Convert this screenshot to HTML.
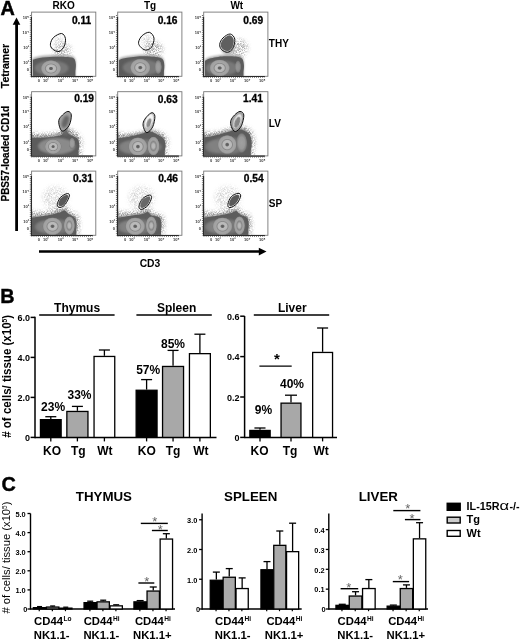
<!DOCTYPE html>
<html><head><meta charset="utf-8"><title>Figure</title>
<style>
html,body{margin:0;padding:0;background:#fff;}
svg{display:block;font-family:"Liberation Sans", Arial, sans-serif;}
</style></head><body>
<svg width="520" height="641" viewBox="0 0 520 641">
<rect width="520" height="641" fill="#fff"/>
<defs>
<filter id="b1" x="-20%" y="-20%" width="140%" height="140%"><feGaussianBlur stdDeviation="1"/></filter>
<filter id="b2" x="-20%" y="-20%" width="140%" height="140%"><feGaussianBlur stdDeviation="2"/></filter>
<filter id="b3" x="-30%" y="-30%" width="160%" height="160%"><feGaussianBlur stdDeviation="3.5"/></filter>
<filter id="b05" x="-20%" y="-20%" width="140%" height="140%"><feGaussianBlur stdDeviation="0.6"/></filter>
<radialGradient id="ring">
<stop offset="0" stop-color="#5c5c5c"/><stop offset="0.13" stop-color="#666"/>
<stop offset="0.24" stop-color="#bcbcbc"/><stop offset="0.44" stop-color="#b8b8b8"/>
<stop offset="0.54" stop-color="#8a8a8a"/><stop offset="0.64" stop-color="#a6a6a6"/>
<stop offset="0.86" stop-color="#a0a0a0"/><stop offset="0.96" stop-color="#808080"/>
<stop offset="1" stop-color="#707070" stop-opacity="0"/></radialGradient>
<radialGradient id="ringB">
<stop offset="0" stop-color="#bababa"/><stop offset="0.24" stop-color="#b4b4b4"/>
<stop offset="0.46" stop-color="#868686"/><stop offset="0.64" stop-color="#a4a4a4"/>
<stop offset="0.86" stop-color="#9c9c9c"/><stop offset="0.96" stop-color="#808080"/>
<stop offset="1" stop-color="#707070" stop-opacity="0"/></radialGradient>
<radialGradient id="lobe">
<stop offset="0" stop-color="#a0a0a0"/><stop offset="0.55" stop-color="#999"/>
<stop offset="0.85" stop-color="#7e7e7e"/>
<stop offset="1" stop-color="#6a6a6a" stop-opacity="0"/></radialGradient>
<filter id="spk" x="-30%" y="-30%" width="160%" height="160%"><feGaussianBlur in="SourceGraphic" stdDeviation="2.2" result="bl"/>
<feTurbulence type="fractalNoise" baseFrequency="1.3" numOctaves="1" seed="11" result="n"/>
<feColorMatrix in="n" type="matrix" values="0 0 0 0 0  0 0 0 0 0  0 0 0 0 0  0 0 0 3.4 -1.25" result="m"/>
<feComposite in="bl" in2="m" operator="in" result="s"/>
<feGaussianBlur in="s" stdDeviation="0.35"/></filter>
</defs>
<text x="0.6" y="14.6" font-size="19.8" font-weight="bold" text-anchor="start" fill="#000" stroke="#000" stroke-width="0.5">A</text>
<line x1="16.6" y1="22" x2="16.6" y2="231" stroke="#000" stroke-width="2.8" />
<path d="M16.5 17.6 L12.7 24.7 L20.3 24.7 Z" fill="#000"/>
<text transform="translate(8.9,88.3) rotate(-90)" font-size="10.3" font-weight="bold" textLength="44.5" stroke="#000" stroke-width="0.2" lengthAdjust="spacingAndGlyphs">Tetramer</text>
<text transform="translate(8.9,201.5) rotate(-90)" font-size="10.3" font-weight="bold" textLength="95.5" stroke="#000" stroke-width="0.2" lengthAdjust="spacingAndGlyphs">PBS57-loaded CD1d</text>
<line x1="39" y1="251.5" x2="260" y2="251.5" stroke="#000" stroke-width="2.7" />
<path d="M266.5 251.6 L258.8 247.7 L258.8 255.5 Z" fill="#000"/>
<text x="150" y="266.8" font-size="10.3" font-weight="bold" text-anchor="middle" fill="#000" >CD3</text>
<text x="63.6" y="8.8" font-size="10" font-weight="bold" text-anchor="middle" fill="#000" >RKO</text>
<text x="150" y="8.8" font-size="10" font-weight="bold" text-anchor="middle" fill="#000" >Tg</text>
<text x="236.8" y="8.8" font-size="10" font-weight="bold" text-anchor="middle" fill="#000" >Wt</text>
<text x="268.8" y="47.2" font-size="10" font-weight="bold" text-anchor="start" fill="#000" >THY</text>
<text x="268.8" y="127" font-size="10" font-weight="bold" text-anchor="start" fill="#000" >LV</text>
<text x="268.8" y="206.5" font-size="10" font-weight="bold" text-anchor="start" fill="#000" >SP</text>
<clipPath id="cp00"><rect x="32.0" y="12.5" width="63.4" height="63.4"/></clipPath>
<g clip-path="url(#cp00)"><g transform="translate(31.6,12.1)">
<ellipse cx="31.0" cy="39.0" rx="9" ry="8" fill="#999" opacity="0.75" filter="url(#spk)"/>
<ellipse cx="27.5" cy="30.5" rx="4.5" ry="7" fill="#aaa" opacity="0.6" filter="url(#spk)"/>
<path d="M1.2 72 L1.2 45.9 C2.3 45.6 4.5 44.7 8.0 44.2 C11.5 43.7 17.3 43.1 22.0 43.0 C26.7 42.9 32.6 43.1 36.0 43.4 C39.4 43.7 40.9 43.7 42.3 44.9 C43.7 46.1 44.0 48.1 44.2 50.4 C44.5 52.6 43.9 57.1 43.8 58.4 L43.8 72Z" fill="#8c8c8c" opacity="0.75" filter="url(#b1)"/>
<path d="M1.2 72 L1.2 47.5 C2.3 47.2 4.5 46.3 8.0 45.8 C11.5 45.3 17.3 44.7 22.0 44.6 C26.7 44.5 32.6 44.7 36.0 45.0 C39.4 45.3 40.9 45.3 42.3 46.5 C43.7 47.7 44.0 49.8 44.2 52.0 C44.5 54.2 43.9 58.7 43.8 60.0 L43.8 72Z" fill="#5c5c5c" filter="url(#b05)"/>
<ellipse cx="20.0" cy="56.0" rx="17" ry="7.5" fill="#787878" filter="url(#b1)"/>
<ellipse cx="19.4" cy="56.4" rx="10.4" ry="8.4" fill="url(#ring)"/>
</g></g>
<path transform="translate(31.6,12.1)" d="M30.0 21.4 C32.0 21.6 33.4 24.2 33.8 26.3 C34.2 28.4 33.6 31.8 32.6 34.0 C31.6 36.2 29.4 38.9 27.5 39.4 C25.6 39.9 22.4 38.2 21.0 37.0 C19.6 35.8 18.6 34.0 18.8 32.0 C19.0 30.1 20.1 27.1 22.0 25.3 C23.9 23.5 28.0 21.2 30.0 21.4Z" fill="none" stroke="#101010" stroke-width="1"/>
<g font-size="4" font-weight="bold" fill="#333" text-anchor="end">
<text x="29.0" y="19.1">10⁵</text>
<text x="29.0" y="33.6">10⁴</text>
<text x="29.0" y="48.6">10³</text>
<text x="29.0" y="64.1">10²</text>
<text x="29.0" y="71.1">0</text>
</g>
<g font-size="4" font-weight="bold" fill="#333" text-anchor="middle">
<text x="38.9" y="82.1">0</text>
<text x="45.8" y="82.1">10²</text>
<text x="60.6" y="82.1">10³</text>
<text x="75.1" y="82.1">10⁴</text>
<text x="90.1" y="82.1">10⁵</text>
</g>
<rect x="31.6" y="12.1" width="64.2" height="64.2" fill="none" stroke="#777" stroke-width="0.9"/>
<path d="M31.4 17.1 V76.5 H92.8" fill="none" stroke="#2a2a2a" stroke-width="1.2"/>
<line x1="30.4" y1="15.1" x2="30.4" y2="76.3" stroke="#444" stroke-width="1.2" stroke-dasharray="0.6 1.5"/>
<line x1="31.6" y1="77.5" x2="92.8" y2="77.5" stroke="#444" stroke-width="1.2" stroke-dasharray="0.6 1.5"/>
<text x="91.2" y="24.1" font-size="10.2" font-weight="bold" text-anchor="end" fill="#000" stroke="#000" stroke-width="0.3">0.11</text>
<clipPath id="cp01"><rect x="118.1" y="12.5" width="63.4" height="63.4"/></clipPath>
<g clip-path="url(#cp01)"><g transform="translate(117.7,12.1)">
<ellipse cx="36.0" cy="38.0" rx="9" ry="8.5" fill="#909090" opacity="0.85" filter="url(#spk)"/>
<ellipse cx="29.5" cy="29.0" rx="4.5" ry="6.5" fill="#aaa" opacity="0.7" filter="url(#spk)"/>
<path d="M1.2 72 L1.2 46.4 C2.3 46.1 4.2 45.0 8.0 44.4 C11.8 43.8 19.0 42.8 24.0 42.6 C29.0 42.4 34.5 42.9 38.0 43.4 C41.5 43.9 43.4 44.1 44.8 45.4 C46.2 46.7 46.4 49.2 46.6 51.4 C46.8 53.6 46.3 57.2 46.2 58.4 L46.2 72Z" fill="#8c8c8c" opacity="0.75" filter="url(#b1)"/>
<path d="M1.2 72 L1.2 48.0 C2.3 47.7 4.2 46.6 8.0 46.0 C11.8 45.4 19.0 44.4 24.0 44.2 C29.0 44.0 34.5 44.5 38.0 45.0 C41.5 45.5 43.4 45.7 44.8 47.0 C46.2 48.3 46.4 50.8 46.6 53.0 C46.8 55.2 46.3 58.8 46.2 60.0 L46.2 72Z" fill="#5c5c5c" filter="url(#b05)"/>
<ellipse cx="24.0" cy="55.5" rx="19" ry="8" fill="#787878" filter="url(#b1)"/>
<ellipse cx="22.6" cy="55.5" rx="10.4" ry="9" fill="url(#ring)"/>
<ellipse cx="40.5" cy="54.9" rx="3.8" ry="7.4" fill="url(#lobe)"/>
</g></g>
<path transform="translate(117.7,12.1)" d="M31.7 20.2 C33.7 20.6 36.0 23.6 36.3 26.1 C36.6 28.6 35.1 33.3 33.7 35.3 C32.3 37.3 29.7 38.0 27.8 37.9 C25.9 37.8 23.8 35.9 22.6 34.6 C21.5 33.3 20.6 31.9 20.9 30.0 C21.2 28.1 22.7 25.1 24.5 23.5 C26.3 21.9 29.7 19.8 31.7 20.2Z" fill="none" stroke="#101010" stroke-width="1"/>
<g font-size="4" font-weight="bold" fill="#333" text-anchor="end">
<text x="115.1" y="19.1">10⁵</text>
<text x="115.1" y="33.6">10⁴</text>
<text x="115.1" y="48.6">10³</text>
<text x="115.1" y="64.1">10²</text>
<text x="115.1" y="71.1">0</text>
</g>
<g font-size="4" font-weight="bold" fill="#333" text-anchor="middle">
<text x="125.0" y="82.1">0</text>
<text x="131.9" y="82.1">10²</text>
<text x="146.7" y="82.1">10³</text>
<text x="161.2" y="82.1">10⁴</text>
<text x="176.2" y="82.1">10⁵</text>
</g>
<rect x="117.7" y="12.1" width="64.2" height="64.2" fill="none" stroke="#777" stroke-width="0.9"/>
<path d="M117.5 17.1 V76.5 H178.9" fill="none" stroke="#2a2a2a" stroke-width="1.2"/>
<line x1="116.5" y1="15.1" x2="116.5" y2="76.3" stroke="#444" stroke-width="1.2" stroke-dasharray="0.6 1.5"/>
<line x1="117.7" y1="77.5" x2="178.9" y2="77.5" stroke="#444" stroke-width="1.2" stroke-dasharray="0.6 1.5"/>
<text x="177.5" y="23.5" font-size="10.2" font-weight="bold" text-anchor="end" fill="#000" stroke="#000" stroke-width="0.3">0.16</text>
<clipPath id="cp02"><rect x="204.1" y="12.5" width="63.4" height="63.4"/></clipPath>
<g clip-path="url(#cp02)"><g transform="translate(203.7,12.1)">
<ellipse cx="35.0" cy="36.0" rx="9" ry="9" fill="#909090" opacity="0.8" filter="url(#spk)"/>
<path d="M1.2 72 L1.2 47.4 C2.0 47.0 2.9 45.7 6.0 44.9 C9.1 44.1 15.7 42.9 20.0 42.6 C24.3 42.3 28.9 42.5 32.0 42.9 C35.0 43.3 36.9 43.5 38.3 44.9 C39.7 46.3 40.0 49.1 40.2 51.4 C40.5 53.6 39.9 57.2 39.8 58.4 L39.8 72Z" fill="#8c8c8c" opacity="0.75" filter="url(#b1)"/>
<path d="M1.2 72 L1.2 49.0 C2.0 48.6 2.9 47.3 6.0 46.5 C9.1 45.7 15.7 44.5 20.0 44.2 C24.3 43.9 28.9 44.1 32.0 44.5 C35.0 44.9 36.9 45.1 38.3 46.5 C39.7 47.9 40.0 50.8 40.2 53.0 C40.5 55.2 39.9 58.8 39.8 60.0 L39.8 72Z" fill="#5c5c5c" filter="url(#b05)"/>
<ellipse cx="18.0" cy="56.0" rx="16" ry="7.5" fill="#787878" filter="url(#b1)"/>
<ellipse cx="16.0" cy="55.9" rx="10.4" ry="8.6" fill="url(#ring)"/>
<ellipse cx="34.3" cy="54.6" rx="3.3" ry="6.6" fill="url(#lobe)" opacity="0.8"/>
<ellipse cx="24.0" cy="36.0" rx="7" ry="7" fill="#888" opacity="0.5" filter="url(#b1)"/>
<path d="M26.5 21.9 C28.5 22.1 30.7 24.7 31.1 27.1 C31.5 29.5 30.3 34.1 29.1 36.3 C27.9 38.5 25.8 40.0 23.9 40.2 C22.0 40.4 19.3 38.9 18.0 37.6 C16.7 36.3 15.8 34.3 16.0 32.3 C16.2 30.3 17.6 27.5 19.3 25.8 C21.1 24.1 24.5 21.7 26.5 21.9Z" fill="#5e5e5e" filter="url(#b05)" transform="translate(23.4 31.6) scale(0.86) translate(-23.4 -31.6)"/>
</g></g>
<path transform="translate(203.7,12.1)" d="M26.5 21.9 C28.5 22.1 30.7 24.7 31.1 27.1 C31.5 29.5 30.3 34.1 29.1 36.3 C27.9 38.5 25.8 40.0 23.9 40.2 C22.0 40.4 19.3 38.9 18.0 37.6 C16.7 36.3 15.8 34.3 16.0 32.3 C16.2 30.3 17.6 27.5 19.3 25.8 C21.1 24.1 24.5 21.7 26.5 21.9Z" fill="none" stroke="#101010" stroke-width="1"/>
<g font-size="4" font-weight="bold" fill="#333" text-anchor="end">
<text x="201.1" y="19.1">10⁵</text>
<text x="201.1" y="33.6">10⁴</text>
<text x="201.1" y="48.6">10³</text>
<text x="201.1" y="64.1">10²</text>
<text x="201.1" y="71.1">0</text>
</g>
<g font-size="4" font-weight="bold" fill="#333" text-anchor="middle">
<text x="211.0" y="82.1">0</text>
<text x="217.9" y="82.1">10²</text>
<text x="232.7" y="82.1">10³</text>
<text x="247.2" y="82.1">10⁴</text>
<text x="262.2" y="82.1">10⁵</text>
</g>
<rect x="203.7" y="12.1" width="64.2" height="64.2" fill="none" stroke="#777" stroke-width="0.9"/>
<path d="M203.5 17.1 V76.5 H264.9" fill="none" stroke="#2a2a2a" stroke-width="1.2"/>
<line x1="202.5" y1="15.1" x2="202.5" y2="76.3" stroke="#444" stroke-width="1.2" stroke-dasharray="0.6 1.5"/>
<line x1="203.7" y1="77.5" x2="264.9" y2="77.5" stroke="#444" stroke-width="1.2" stroke-dasharray="0.6 1.5"/>
<text x="263.1" y="24.1" font-size="10.2" font-weight="bold" text-anchor="end" fill="#000" stroke="#000" stroke-width="0.3">0.69</text>
<clipPath id="cp10"><rect x="32.0" y="92.1" width="63.4" height="63.4"/></clipPath>
<g clip-path="url(#cp10)"><g transform="translate(31.6,91.7)">
<path d="M-4.0 72 L-4.0 41.0 C-1.7 41.2 5.7 42.4 10.0 42.5 C14.3 42.6 18.7 42.2 22.0 41.5 C25.3 40.8 28.0 39.1 30.0 38.0 C32.0 36.9 32.5 35.0 34.0 35.0 C35.5 35.0 37.0 36.8 39.0 38.0 C41.0 39.2 44.2 40.0 46.0 42.0 C47.8 44.0 49.5 47.0 50.0 50.0 C50.5 53.0 49.2 58.3 49.0 60.0 L49.0 72Z" fill="#707070" filter="url(#spk)"/>
<path d="M-4.0 72 L-4.0 44.4 C-1.7 44.4 5.7 44.6 10.0 44.4 C14.3 44.2 18.7 43.9 22.0 43.4 C25.3 42.9 28.0 42.4 30.0 41.4 C32.0 40.4 32.7 37.4 34.0 37.4 C35.3 37.4 36.1 40.1 38.0 41.4 C39.9 42.6 43.9 43.2 45.5 44.9 C47.1 46.6 47.4 49.1 47.6 51.4 C47.8 53.6 46.9 57.2 46.8 58.4 L46.8 72Z" fill="#8c8c8c" opacity="0.75" filter="url(#b1)"/>
<path d="M-4.0 72 L-4.0 46.0 C-1.7 46.0 5.7 46.2 10.0 46.0 C14.3 45.8 18.7 45.5 22.0 45.0 C25.3 44.5 28.0 44.0 30.0 43.0 C32.0 42.0 32.7 39.0 34.0 39.0 C35.3 39.0 36.1 41.8 38.0 43.0 C39.9 44.2 43.9 44.8 45.5 46.5 C47.1 48.2 47.4 50.8 47.6 53.0 C47.8 55.2 46.9 58.8 46.8 60.0 L46.8 72Z" fill="#5c5c5c" filter="url(#b05)"/>
<ellipse cx="25.0" cy="54.5" rx="19" ry="7.5" fill="#787878" filter="url(#b1)"/>
<ellipse cx="25.0" cy="54.5" rx="17.5" ry="8" fill="#8c8c8c" opacity="0.95" filter="url(#b1)"/>
<ellipse cx="21.5" cy="54.9" rx="8.6" ry="7.6" fill="url(#ring)"/>
<ellipse cx="40.4" cy="51.8" rx="3.4" ry="6" fill="url(#lobe)"/>
<ellipse cx="33.5" cy="39.0" rx="3.2" ry="4.5" fill="#6a6a6a" opacity="0.9" filter="url(#b1)"/>
<path d="M36.3 19.7 C37.8 19.7 39.5 21.0 39.7 23.3 C39.9 25.6 39.1 30.7 37.7 33.4 C36.4 36.1 33.2 38.9 31.6 39.4 C30.0 39.9 29.0 37.9 28.3 36.1 C27.6 34.3 26.8 30.8 27.2 28.7 C27.6 26.6 29.4 24.8 30.9 23.3 C32.4 21.8 34.8 19.7 36.3 19.7Z" fill="#a2a2a2" filter="url(#b05)" transform="translate(33.1 29.1) scale(0.97) translate(-33.1 -29.1)"/>
<ellipse cx="33.7" cy="30.0" rx="3.2" ry="6.6" fill="#666" filter="url(#b1)" transform="rotate(20 33.7 30.0)"/>
</g></g>
<path transform="translate(31.6,91.7)" d="M36.3 19.7 C37.8 19.7 39.5 21.0 39.7 23.3 C39.9 25.6 39.1 30.7 37.7 33.4 C36.4 36.1 33.2 38.9 31.6 39.4 C30.0 39.9 29.0 37.9 28.3 36.1 C27.6 34.3 26.8 30.8 27.2 28.7 C27.6 26.6 29.4 24.8 30.9 23.3 C32.4 21.8 34.8 19.7 36.3 19.7Z" fill="none" stroke="#101010" stroke-width="1"/>
<g font-size="4" font-weight="bold" fill="#333" text-anchor="end">
<text x="29.0" y="98.7">10⁵</text>
<text x="29.0" y="113.2">10⁴</text>
<text x="29.0" y="128.2">10³</text>
<text x="29.0" y="143.7">10²</text>
<text x="29.0" y="150.7">0</text>
</g>
<g font-size="4" font-weight="bold" fill="#333" text-anchor="middle">
<text x="38.9" y="161.7">0</text>
<text x="45.8" y="161.7">10²</text>
<text x="60.6" y="161.7">10³</text>
<text x="75.1" y="161.7">10⁴</text>
<text x="90.1" y="161.7">10⁵</text>
</g>
<rect x="31.6" y="91.7" width="64.2" height="64.2" fill="none" stroke="#777" stroke-width="0.9"/>
<path d="M31.4 96.7 V156.1 H92.8" fill="none" stroke="#2a2a2a" stroke-width="1.2"/>
<line x1="30.4" y1="94.7" x2="30.4" y2="155.9" stroke="#444" stroke-width="1.2" stroke-dasharray="0.6 1.5"/>
<line x1="31.6" y1="157.1" x2="92.8" y2="157.1" stroke="#444" stroke-width="1.2" stroke-dasharray="0.6 1.5"/>
<text x="94.0" y="102.3" font-size="10.2" font-weight="bold" text-anchor="end" fill="#000" stroke="#000" stroke-width="0.3">0.19</text>
<clipPath id="cp11"><rect x="118.1" y="92.1" width="63.4" height="63.4"/></clipPath>
<g clip-path="url(#cp11)"><g transform="translate(117.7,91.7)">
<path d="M-4.0 72 L-4.0 41.0 C-1.7 41.2 5.7 42.5 10.0 42.5 C14.3 42.5 19.0 41.6 22.0 41.0 C25.0 40.4 26.2 39.5 28.0 39.0 C29.8 38.5 31.0 37.8 33.0 38.0 C35.0 38.2 37.7 39.2 40.0 40.0 C42.3 40.8 45.3 41.3 47.0 43.0 C48.7 44.7 49.7 47.2 50.0 50.0 C50.3 52.8 49.2 58.3 49.0 60.0 L49.0 72Z" fill="#707070" filter="url(#spk)"/>
<path d="M-4.0 72 L-4.0 45.4 C-2.0 45.2 4.0 44.7 8.0 44.0 C12.0 43.3 16.8 42.2 20.0 41.4 C23.2 40.6 25.2 40.0 27.0 39.4 C28.8 38.8 29.3 37.7 31.0 37.8 C32.7 37.9 34.6 38.7 37.0 39.9 C39.4 41.1 43.7 43.0 45.5 44.9 C47.3 46.8 47.5 49.1 47.8 51.4 C48.0 53.6 47.1 57.2 47.0 58.4 L47.0 72Z" fill="#8c8c8c" opacity="0.75" filter="url(#b1)"/>
<path d="M-4.0 72 L-4.0 47.0 C-2.0 46.8 4.0 46.3 8.0 45.6 C12.0 44.9 16.8 43.8 20.0 43.0 C23.2 42.2 25.2 41.6 27.0 41.0 C28.8 40.4 29.3 39.3 31.0 39.4 C32.7 39.5 34.6 40.3 37.0 41.5 C39.4 42.7 43.7 44.6 45.5 46.5 C47.3 48.4 47.5 50.8 47.8 53.0 C48.0 55.2 47.1 58.8 47.0 60.0 L47.0 72Z" fill="#5c5c5c" filter="url(#b05)"/>
<ellipse cx="24.0" cy="55.0" rx="20" ry="7.5" fill="#787878" filter="url(#b1)"/>
<ellipse cx="12.0" cy="55.5" rx="11" ry="6.5" fill="#858585" opacity="0.8" filter="url(#b1)"/>
<ellipse cx="20.2" cy="54.9" rx="9.8" ry="9.4" fill="url(#ring)"/>
<ellipse cx="35.7" cy="54.3" rx="6.2" ry="9.6" fill="url(#ringB)"/>
<path d="M34.3 21.0 C35.6 21.0 37.1 22.2 37.2 24.6 C37.3 27.0 36.3 32.5 35.0 35.2 C33.7 37.9 30.7 40.9 29.2 41.0 C27.7 41.1 26.5 37.8 25.9 36.0 C25.3 34.2 25.1 32.3 25.7 30.4 C26.2 28.5 27.8 26.4 29.2 24.8 C30.6 23.2 33.0 21.0 34.3 21.0Z" fill="#b8b8b8" filter="url(#b05)" transform="translate(30.9 30.4) scale(0.97) translate(-30.9 -30.4)"/>
<ellipse cx="31.4" cy="29.3" rx="3.5" ry="7.3" fill="#f6f6f6" filter="url(#b05)" transform="rotate(22 31.4 29.3)"/>
<ellipse cx="31.2" cy="31.2" rx="2" ry="4.8" fill="#8a8a8a" filter="url(#b05)" transform="rotate(18 31.2 31.2)"/>
</g></g>
<path transform="translate(117.7,91.7)" d="M34.3 21.0 C35.6 21.0 37.1 22.2 37.2 24.6 C37.3 27.0 36.3 32.5 35.0 35.2 C33.7 37.9 30.7 40.9 29.2 41.0 C27.7 41.1 26.5 37.8 25.9 36.0 C25.3 34.2 25.1 32.3 25.7 30.4 C26.2 28.5 27.8 26.4 29.2 24.8 C30.6 23.2 33.0 21.0 34.3 21.0Z" fill="none" stroke="#101010" stroke-width="1"/>
<g font-size="4" font-weight="bold" fill="#333" text-anchor="end">
<text x="115.1" y="98.7">10⁵</text>
<text x="115.1" y="113.2">10⁴</text>
<text x="115.1" y="128.2">10³</text>
<text x="115.1" y="143.7">10²</text>
<text x="115.1" y="150.7">0</text>
</g>
<g font-size="4" font-weight="bold" fill="#333" text-anchor="middle">
<text x="125.0" y="161.7">0</text>
<text x="131.9" y="161.7">10²</text>
<text x="146.7" y="161.7">10³</text>
<text x="161.2" y="161.7">10⁴</text>
<text x="176.2" y="161.7">10⁵</text>
</g>
<rect x="117.7" y="91.7" width="64.2" height="64.2" fill="none" stroke="#777" stroke-width="0.9"/>
<path d="M117.5 96.7 V156.1 H178.9" fill="none" stroke="#2a2a2a" stroke-width="1.2"/>
<line x1="116.5" y1="94.7" x2="116.5" y2="155.9" stroke="#444" stroke-width="1.2" stroke-dasharray="0.6 1.5"/>
<line x1="117.7" y1="157.1" x2="178.9" y2="157.1" stroke="#444" stroke-width="1.2" stroke-dasharray="0.6 1.5"/>
<text x="177.6" y="103.3" font-size="10.2" font-weight="bold" text-anchor="end" fill="#000" stroke="#000" stroke-width="0.3">0.63</text>
<clipPath id="cp12"><rect x="204.1" y="92.1" width="63.4" height="63.4"/></clipPath>
<g clip-path="url(#cp12)"><g transform="translate(203.7,91.7)">
<path d="M-4.0 72 L-4.0 40.0 C-2.0 40.2 4.0 41.2 8.0 41.0 C12.0 40.8 16.7 39.8 20.0 39.0 C23.3 38.2 25.7 36.8 28.0 36.0 C30.3 35.2 31.7 34.0 34.0 34.0 C36.3 34.0 39.7 35.0 42.0 36.0 C44.3 37.0 46.6 37.7 48.0 40.0 C49.4 42.3 50.2 46.7 50.5 50.0 C50.8 53.3 49.7 58.3 49.5 60.0 L49.5 72Z" fill="#707070" filter="url(#spk)"/>
<path d="M-4.0 72 L-4.0 44.4 C-2.0 44.1 4.3 43.6 8.0 42.9 C11.7 42.2 14.7 41.3 18.0 40.4 C21.3 39.5 25.3 38.2 28.0 37.4 C30.7 36.6 32.0 35.7 34.0 35.7 C36.0 35.7 38.0 36.2 40.0 37.2 C42.0 38.1 44.7 39.4 46.0 41.4 C47.3 43.4 47.8 46.6 48.0 49.4 C48.2 52.2 47.2 56.9 47.0 58.4 L47.0 72Z" fill="#8c8c8c" opacity="0.75" filter="url(#b1)"/>
<path d="M-4.0 72 L-4.0 46.0 C-2.0 45.8 4.3 45.2 8.0 44.5 C11.7 43.8 14.7 42.9 18.0 42.0 C21.3 41.1 25.3 39.8 28.0 39.0 C30.7 38.2 32.0 37.3 34.0 37.3 C36.0 37.3 38.0 37.8 40.0 38.8 C42.0 39.8 44.7 41.0 46.0 43.0 C47.3 45.0 47.8 48.2 48.0 51.0 C48.2 53.8 47.2 58.5 47.0 60.0 L47.0 72Z" fill="#5c5c5c" filter="url(#b05)"/>
<ellipse cx="24.0" cy="54.0" rx="19" ry="8.5" fill="#787878" filter="url(#b1)"/>
<ellipse cx="12.0" cy="55.0" rx="11" ry="6.5" fill="#858585" opacity="0.7" filter="url(#b1)"/>
<ellipse cx="23.5" cy="52.9" rx="9.8" ry="9.6" fill="url(#ring)"/>
<ellipse cx="37.9" cy="51.2" rx="5.8" ry="10.4" fill="url(#lobe)"/>
<path d="M36.3 19.7 C37.8 19.7 39.9 20.9 40.1 23.3 C40.3 25.7 39.1 31.3 37.7 34.1 C36.3 36.9 33.3 39.8 31.6 39.9 C29.9 40.0 28.3 36.6 27.6 34.7 C26.9 32.8 26.6 30.6 27.2 28.7 C27.8 26.8 29.4 24.8 30.9 23.3 C32.4 21.8 34.8 19.7 36.3 19.7Z" fill="#a0a0a0" filter="url(#b05)" transform="translate(33.1 29.1) scale(0.97) translate(-33.1 -29.1)"/>
<ellipse cx="33.8" cy="29.5" rx="3.5" ry="7.6" fill="#ececec" opacity="0.9" filter="url(#b05)" transform="rotate(22 33.8 29.5)"/>
<ellipse cx="33.6" cy="30.6" rx="2.5" ry="5.9" fill="#858585" filter="url(#b05)" transform="rotate(20 33.6 30.6)"/>
</g></g>
<path transform="translate(203.7,91.7)" d="M36.3 19.7 C37.8 19.7 39.9 20.9 40.1 23.3 C40.3 25.7 39.1 31.3 37.7 34.1 C36.3 36.9 33.3 39.8 31.6 39.9 C29.9 40.0 28.3 36.6 27.6 34.7 C26.9 32.8 26.6 30.6 27.2 28.7 C27.8 26.8 29.4 24.8 30.9 23.3 C32.4 21.8 34.8 19.7 36.3 19.7Z" fill="none" stroke="#101010" stroke-width="1"/>
<g font-size="4" font-weight="bold" fill="#333" text-anchor="end">
<text x="201.1" y="98.7">10⁵</text>
<text x="201.1" y="113.2">10⁴</text>
<text x="201.1" y="128.2">10³</text>
<text x="201.1" y="143.7">10²</text>
<text x="201.1" y="150.7">0</text>
</g>
<g font-size="4" font-weight="bold" fill="#333" text-anchor="middle">
<text x="211.0" y="161.7">0</text>
<text x="217.9" y="161.7">10²</text>
<text x="232.7" y="161.7">10³</text>
<text x="247.2" y="161.7">10⁴</text>
<text x="262.2" y="161.7">10⁵</text>
</g>
<rect x="203.7" y="91.7" width="64.2" height="64.2" fill="none" stroke="#777" stroke-width="0.9"/>
<path d="M203.5 96.7 V156.1 H264.9" fill="none" stroke="#2a2a2a" stroke-width="1.2"/>
<line x1="202.5" y1="94.7" x2="202.5" y2="155.9" stroke="#444" stroke-width="1.2" stroke-dasharray="0.6 1.5"/>
<line x1="203.7" y1="157.1" x2="264.9" y2="157.1" stroke="#444" stroke-width="1.2" stroke-dasharray="0.6 1.5"/>
<text x="262.9" y="102.3" font-size="10.2" font-weight="bold" text-anchor="end" fill="#000" stroke="#000" stroke-width="0.3">1.41</text>
<clipPath id="cp20"><rect x="32.0" y="171.5" width="63.4" height="63.4"/></clipPath>
<g clip-path="url(#cp20)"><g transform="translate(31.6,171.1)">
<ellipse cx="24.0" cy="27.0" rx="13" ry="12" fill="#b0b0b0" opacity="0.5" filter="url(#spk)"/>
<path d="M-4.0 72 L-4.0 39.0 C-2.0 39.3 4.3 40.8 8.0 41.0 C11.7 41.2 14.8 40.7 18.0 40.0 C21.2 39.3 24.3 37.8 27.0 37.0 C29.7 36.2 32.0 34.5 34.0 35.0 C36.0 35.5 37.0 38.5 39.0 40.0 C41.0 41.5 44.5 42.0 46.0 44.0 C47.5 46.0 47.8 49.3 48.0 52.0 C48.2 54.7 47.2 58.7 47.0 60.0 L47.0 72Z" fill="#808080" opacity="0.9" filter="url(#spk)"/>
<path d="M-4.0 72 L-4.0 45.4 C-2.0 45.1 4.3 44.4 8.0 43.9 C11.7 43.4 14.7 43.1 18.0 42.4 C21.3 41.7 25.5 40.6 28.0 39.9 C30.5 39.1 31.5 37.6 33.0 37.9 C34.5 38.1 35.3 40.2 37.0 41.4 C38.7 42.6 41.7 43.4 43.0 44.9 C44.3 46.4 44.7 48.1 45.0 50.4 C45.3 52.6 44.7 57.1 44.6 58.4 L44.6 72Z" fill="#8c8c8c" opacity="0.75" filter="url(#b1)"/>
<path d="M-4.0 72 L-4.0 47.0 C-2.0 46.8 4.3 46.0 8.0 45.5 C11.7 45.0 14.7 44.7 18.0 44.0 C21.3 43.3 25.5 42.2 28.0 41.5 C30.5 40.8 31.5 39.2 33.0 39.5 C34.5 39.8 35.3 41.8 37.0 43.0 C38.7 44.2 41.7 45.0 43.0 46.5 C44.3 48.0 44.7 49.8 45.0 52.0 C45.3 54.2 44.7 58.7 44.6 60.0 L44.6 72Z" fill="#5c5c5c" filter="url(#b05)"/>
<ellipse cx="22.9" cy="55.5" rx="17" ry="7.5" fill="#787878" filter="url(#b1)"/>
<ellipse cx="37.7" cy="54.5" rx="5.5" ry="8" fill="#787878" filter="url(#b1)"/>
<ellipse cx="12.9" cy="55.8" rx="10" ry="6" fill="#858585" opacity="0.7" filter="url(#b1)"/>
<ellipse cx="20.9" cy="55.2" rx="10.2" ry="9" fill="url(#ring)"/>
<ellipse cx="37.7" cy="54.5" rx="5.6" ry="9.4" fill="url(#ringB)"/>
<path d="M35.7 22.5 C37.2 22.3 38.1 23.1 37.7 24.9 C37.4 26.7 35.2 31.4 33.6 33.3 C32.0 35.2 29.6 36.3 28.3 36.4 C27.0 36.5 25.5 35.4 25.6 33.7 C25.7 32.0 27.2 28.2 28.9 26.3 C30.6 24.4 34.2 22.7 35.7 22.5Z" fill="#585858" filter="url(#b05)" transform="translate(31.6 29.5) scale(0.8) translate(-31.6 -29.5)"/>
</g></g>
<path transform="translate(31.6,171.1)" d="M35.7 22.5 C37.2 22.3 38.1 23.1 37.7 24.9 C37.4 26.7 35.2 31.4 33.6 33.3 C32.0 35.2 29.6 36.3 28.3 36.4 C27.0 36.5 25.5 35.4 25.6 33.7 C25.7 32.0 27.2 28.2 28.9 26.3 C30.6 24.4 34.2 22.7 35.7 22.5Z" fill="none" stroke="#101010" stroke-width="1"/>
<g font-size="4" font-weight="bold" fill="#333" text-anchor="end">
<text x="29.0" y="178.1">10⁵</text>
<text x="29.0" y="192.6">10⁴</text>
<text x="29.0" y="207.6">10³</text>
<text x="29.0" y="223.1">10²</text>
<text x="29.0" y="230.1">0</text>
</g>
<g font-size="4" font-weight="bold" fill="#333" text-anchor="middle">
<text x="38.9" y="241.1">0</text>
<text x="45.8" y="241.1">10²</text>
<text x="60.6" y="241.1">10³</text>
<text x="75.1" y="241.1">10⁴</text>
<text x="90.1" y="241.1">10⁵</text>
</g>
<rect x="31.6" y="171.1" width="64.2" height="64.2" fill="none" stroke="#777" stroke-width="0.9"/>
<path d="M31.4 176.1 V235.5 H92.8" fill="none" stroke="#2a2a2a" stroke-width="1.2"/>
<line x1="30.4" y1="174.1" x2="30.4" y2="235.3" stroke="#444" stroke-width="1.2" stroke-dasharray="0.6 1.5"/>
<line x1="31.6" y1="236.5" x2="92.8" y2="236.5" stroke="#444" stroke-width="1.2" stroke-dasharray="0.6 1.5"/>
<text x="92.8" y="182.3" font-size="10.2" font-weight="bold" text-anchor="end" fill="#000" stroke="#000" stroke-width="0.3">0.31</text>
<clipPath id="cp21"><rect x="118.1" y="171.5" width="63.4" height="63.4"/></clipPath>
<g clip-path="url(#cp21)"><g transform="translate(117.7,171.1)">
<ellipse cx="24.0" cy="27.0" rx="13" ry="12" fill="#b0b0b0" opacity="0.5" filter="url(#spk)"/>
<path d="M-4.0 72 L-4.0 39.0 C-2.0 39.3 4.3 40.8 8.0 41.0 C11.7 41.2 15.3 40.4 18.0 40.0 C20.7 39.6 21.8 39.1 24.0 38.5 C26.2 37.9 29.0 36.0 31.0 36.5 C33.0 37.0 33.7 40.2 36.0 41.5 C38.3 42.8 42.9 42.2 44.7 44.0 C46.5 45.8 46.5 49.3 46.7 52.0 C46.9 54.7 45.9 58.7 45.7 60.0 L45.7 72Z" fill="#808080" opacity="0.9" filter="url(#spk)"/>
<path d="M-4.0 72 L-4.0 45.4 C-2.0 45.1 4.3 44.4 8.0 43.9 C11.7 43.4 15.2 42.8 18.0 42.4 C20.8 42.0 23.0 41.9 25.0 41.4 C27.0 40.9 28.5 39.1 30.0 39.4 C31.5 39.6 32.0 42.0 34.0 42.9 C36.0 43.8 40.1 43.6 41.7 44.9 C43.3 46.1 43.4 48.1 43.7 50.4 C44.0 52.6 43.4 57.1 43.3 58.4 L43.3 72Z" fill="#8c8c8c" opacity="0.75" filter="url(#b1)"/>
<path d="M-4.0 72 L-4.0 47.0 C-2.0 46.8 4.3 46.0 8.0 45.5 C11.7 45.0 15.2 44.4 18.0 44.0 C20.8 43.6 23.0 43.5 25.0 43.0 C27.0 42.5 28.5 40.8 30.0 41.0 C31.5 41.2 32.0 43.6 34.0 44.5 C36.0 45.4 40.1 45.2 41.7 46.5 C43.3 47.8 43.4 49.8 43.7 52.0 C44.0 54.2 43.4 58.7 43.3 60.0 L43.3 72Z" fill="#5c5c5c" filter="url(#b05)"/>
<ellipse cx="19.5" cy="55.5" rx="17" ry="7.5" fill="#787878" filter="url(#b1)"/>
<ellipse cx="33.6" cy="54.5" rx="5.5" ry="8" fill="#787878" filter="url(#b1)"/>
<ellipse cx="9.5" cy="55.8" rx="10" ry="6" fill="#858585" opacity="0.7" filter="url(#b1)"/>
<ellipse cx="17.5" cy="55.2" rx="10.2" ry="9" fill="url(#ring)"/>
<ellipse cx="33.6" cy="54.5" rx="5.6" ry="9.4" fill="url(#ringB)"/>
<path d="M31.6 24.0 C33.1 23.8 34.1 24.6 33.9 26.3 C33.7 28.0 32.0 32.3 30.3 34.3 C28.6 36.3 25.0 38.3 23.5 38.4 C22.0 38.5 21.1 36.8 21.3 35.0 C21.5 33.2 23.2 29.4 24.9 27.6 C26.6 25.8 30.1 24.2 31.6 24.0Z" fill="#686868" filter="url(#b05)" transform="translate(27.6 30.9) scale(0.8) translate(-27.6 -30.9)"/>
</g></g>
<path transform="translate(117.7,171.1)" d="M31.6 24.0 C33.1 23.8 34.1 24.6 33.9 26.3 C33.7 28.0 32.0 32.3 30.3 34.3 C28.6 36.3 25.0 38.3 23.5 38.4 C22.0 38.5 21.1 36.8 21.3 35.0 C21.5 33.2 23.2 29.4 24.9 27.6 C26.6 25.8 30.1 24.2 31.6 24.0Z" fill="none" stroke="#101010" stroke-width="1"/>
<g font-size="4" font-weight="bold" fill="#333" text-anchor="end">
<text x="115.1" y="178.1">10⁵</text>
<text x="115.1" y="192.6">10⁴</text>
<text x="115.1" y="207.6">10³</text>
<text x="115.1" y="223.1">10²</text>
<text x="115.1" y="230.1">0</text>
</g>
<g font-size="4" font-weight="bold" fill="#333" text-anchor="middle">
<text x="125.0" y="241.1">0</text>
<text x="131.9" y="241.1">10²</text>
<text x="146.7" y="241.1">10³</text>
<text x="161.2" y="241.1">10⁴</text>
<text x="176.2" y="241.1">10⁵</text>
</g>
<rect x="117.7" y="171.1" width="64.2" height="64.2" fill="none" stroke="#777" stroke-width="0.9"/>
<path d="M117.5 176.1 V235.5 H178.9" fill="none" stroke="#2a2a2a" stroke-width="1.2"/>
<line x1="116.5" y1="174.1" x2="116.5" y2="235.3" stroke="#444" stroke-width="1.2" stroke-dasharray="0.6 1.5"/>
<line x1="117.7" y1="236.5" x2="178.9" y2="236.5" stroke="#444" stroke-width="1.2" stroke-dasharray="0.6 1.5"/>
<text x="178.0" y="182.0" font-size="10.2" font-weight="bold" text-anchor="end" fill="#000" stroke="#000" stroke-width="0.3">0.46</text>
<clipPath id="cp22"><rect x="204.1" y="171.5" width="63.4" height="63.4"/></clipPath>
<g clip-path="url(#cp22)"><g transform="translate(203.7,171.1)">
<ellipse cx="24.0" cy="27.0" rx="13" ry="12" fill="#b0b0b0" opacity="0.5" filter="url(#spk)"/>
<path d="M-4.0 72 L-4.0 39.0 C-2.0 39.3 4.3 40.8 8.0 41.0 C11.7 41.2 14.9 40.6 18.0 40.0 C21.1 39.4 23.9 38.2 26.5 37.5 C29.1 36.8 31.5 35.0 33.5 35.5 C35.5 36.0 36.4 39.1 38.5 40.5 C40.6 41.9 44.4 42.1 46.0 44.0 C47.6 45.9 47.8 49.3 48.0 52.0 C48.2 54.7 47.2 58.7 47.0 60.0 L47.0 72Z" fill="#808080" opacity="0.9" filter="url(#spk)"/>
<path d="M-4.0 72 L-4.0 45.4 C-2.0 45.1 4.3 44.4 8.0 43.9 C11.7 43.4 14.8 43.0 18.0 42.4 C21.2 41.8 25.1 41.1 27.5 40.4 C29.9 39.7 31.0 38.1 32.5 38.4 C34.0 38.6 34.8 40.8 36.5 41.9 C38.2 43.0 41.6 43.5 43.0 44.9 C44.4 46.3 44.7 48.1 45.0 50.4 C45.3 52.6 44.7 57.1 44.6 58.4 L44.6 72Z" fill="#8c8c8c" opacity="0.75" filter="url(#b1)"/>
<path d="M-4.0 72 L-4.0 47.0 C-2.0 46.8 4.3 46.0 8.0 45.5 C11.7 45.0 14.8 44.6 18.0 44.0 C21.2 43.4 25.1 42.7 27.5 42.0 C29.9 41.3 31.0 39.8 32.5 40.0 C34.0 40.2 34.8 42.4 36.5 43.5 C38.2 44.6 41.6 45.1 43.0 46.5 C44.4 47.9 44.7 49.8 45.0 52.0 C45.3 54.2 44.7 58.7 44.6 60.0 L44.6 72Z" fill="#5c5c5c" filter="url(#b05)"/>
<ellipse cx="20.8" cy="55.5" rx="17" ry="7.5" fill="#787878" filter="url(#b1)"/>
<ellipse cx="35.7" cy="54.5" rx="5.5" ry="8" fill="#787878" filter="url(#b1)"/>
<ellipse cx="10.8" cy="55.8" rx="10" ry="6" fill="#858585" opacity="0.7" filter="url(#b1)"/>
<ellipse cx="18.8" cy="55.2" rx="10.2" ry="9" fill="url(#ring)"/>
<ellipse cx="35.7" cy="54.5" rx="5.6" ry="9.4" fill="url(#ringB)"/>
<path d="M34.3 22.2 C35.9 22.1 37.2 23.1 37.0 24.9 C36.8 26.6 34.8 30.8 33.0 32.7 C31.2 34.7 27.7 36.5 26.2 36.6 C24.7 36.7 24.0 35.1 24.2 33.3 C24.4 31.5 25.9 27.5 27.6 25.6 C29.3 23.8 32.7 22.3 34.3 22.2Z" fill="#585858" filter="url(#b05)" transform="translate(30.4 29.2) scale(0.8) translate(-30.4 -29.2)"/>
</g></g>
<path transform="translate(203.7,171.1)" d="M34.3 22.2 C35.9 22.1 37.2 23.1 37.0 24.9 C36.8 26.6 34.8 30.8 33.0 32.7 C31.2 34.7 27.7 36.5 26.2 36.6 C24.7 36.7 24.0 35.1 24.2 33.3 C24.4 31.5 25.9 27.5 27.6 25.6 C29.3 23.8 32.7 22.3 34.3 22.2Z" fill="none" stroke="#101010" stroke-width="1"/>
<g font-size="4" font-weight="bold" fill="#333" text-anchor="end">
<text x="201.1" y="178.1">10⁵</text>
<text x="201.1" y="192.6">10⁴</text>
<text x="201.1" y="207.6">10³</text>
<text x="201.1" y="223.1">10²</text>
<text x="201.1" y="230.1">0</text>
</g>
<g font-size="4" font-weight="bold" fill="#333" text-anchor="middle">
<text x="211.0" y="241.1">0</text>
<text x="217.9" y="241.1">10²</text>
<text x="232.7" y="241.1">10³</text>
<text x="247.2" y="241.1">10⁴</text>
<text x="262.2" y="241.1">10⁵</text>
</g>
<rect x="203.7" y="171.1" width="64.2" height="64.2" fill="none" stroke="#777" stroke-width="0.9"/>
<path d="M203.5 176.1 V235.5 H264.9" fill="none" stroke="#2a2a2a" stroke-width="1.2"/>
<line x1="202.5" y1="174.1" x2="202.5" y2="235.3" stroke="#444" stroke-width="1.2" stroke-dasharray="0.6 1.5"/>
<line x1="203.7" y1="236.5" x2="264.9" y2="236.5" stroke="#444" stroke-width="1.2" stroke-dasharray="0.6 1.5"/>
<text x="263.6" y="182.1" font-size="10.2" font-weight="bold" text-anchor="end" fill="#000" stroke="#000" stroke-width="0.3">0.54</text>
<text x="0.3" y="303" font-size="19.8" font-weight="bold" text-anchor="start" fill="#000" stroke="#000" stroke-width="0.4">B</text>
<text transform="translate(11.3,437.8) rotate(-90)" font-size="12" font-weight="bold" textLength="123" lengthAdjust="spacingAndGlyphs"># of cells/ tissue (x10<tspan font-size="7" dy="-4">5</tspan><tspan dy="4">)</tspan></text>
<line x1="35" y1="316.7" x2="35" y2="438.15" stroke="#000" stroke-width="1.5" />
<line x1="35" y1="437.4" x2="216.5" y2="437.4" stroke="#000" stroke-width="1.5" />
<line x1="30.6" y1="437.4" x2="35" y2="437.4" stroke="#000" stroke-width="1.5" />
<text x="30" y="441.09999999999997" font-size="9" font-weight="bold" text-anchor="end" fill="#000" >0</text>
<line x1="30.6" y1="397.4" x2="35" y2="397.4" stroke="#000" stroke-width="1.5" />
<text x="30" y="401.09999999999997" font-size="9" font-weight="bold" text-anchor="end" fill="#000" >2.0</text>
<line x1="30.6" y1="357.4" x2="35" y2="357.4" stroke="#000" stroke-width="1.5" />
<text x="30" y="361.09999999999997" font-size="9" font-weight="bold" text-anchor="end" fill="#000" >4.0</text>
<line x1="30.6" y1="317.4" x2="35" y2="317.4" stroke="#000" stroke-width="1.5" />
<text x="30" y="321.09999999999997" font-size="9" font-weight="bold" text-anchor="end" fill="#000" >6.0</text>
<text x="77.1" y="312" font-size="12" font-weight="bold" text-anchor="middle" fill="#000" >Thymus</text>
<line x1="39.2" y1="314.9" x2="114.6" y2="314.9" stroke="#000" stroke-width="1.5" />
<text x="176.6" y="312" font-size="12" font-weight="bold" text-anchor="middle" fill="#000" >Spleen</text>
<line x1="136.4" y1="314.9" x2="211.8" y2="314.9" stroke="#000" stroke-width="1.5" />
<line x1="50.8" y1="437.4" x2="50.8" y2="441.4" stroke="#000" stroke-width="1.3" />
<line x1="50.8" y1="419" x2="50.8" y2="416.7" stroke="#000" stroke-width="1.3" />
<line x1="45.3" y1="416.7" x2="56.3" y2="416.7" stroke="#000" stroke-width="1.3" />
<rect x="40.45" y="419.65" width="20.70" height="17.75" fill="#000" stroke="#000" stroke-width="1.3"/>
<text x="52" y="454.6" font-size="12" font-weight="bold" text-anchor="middle" fill="#000" >KO</text>
<line x1="77.4" y1="437.4" x2="77.4" y2="441.4" stroke="#000" stroke-width="1.3" />
<line x1="77.4" y1="410.8" x2="77.4" y2="406.4" stroke="#000" stroke-width="1.3" />
<line x1="71.9" y1="406.4" x2="82.9" y2="406.4" stroke="#000" stroke-width="1.3" />
<rect x="66.85" y="411.45" width="21.10" height="25.95" fill="#a8a8a8" stroke="#000" stroke-width="1.3"/>
<text x="78.3" y="454.6" font-size="12" font-weight="bold" text-anchor="middle" fill="#000" >Tg</text>
<line x1="104.4" y1="437.4" x2="104.4" y2="441.4" stroke="#000" stroke-width="1.3" />
<line x1="104.4" y1="355.8" x2="104.4" y2="350" stroke="#000" stroke-width="1.3" />
<line x1="98.9" y1="350" x2="109.9" y2="350" stroke="#000" stroke-width="1.3" />
<rect x="94.05" y="356.45" width="20.70" height="80.95" fill="#fff" stroke="#000" stroke-width="1.3"/>
<text x="104.8" y="454.6" font-size="12" font-weight="bold" text-anchor="middle" fill="#000" >Wt</text>
<line x1="146.6" y1="437.4" x2="146.6" y2="441.4" stroke="#000" stroke-width="1.3" />
<line x1="146.6" y1="389.6" x2="146.6" y2="379.6" stroke="#000" stroke-width="1.3" />
<line x1="141.1" y1="379.6" x2="152.1" y2="379.6" stroke="#000" stroke-width="1.3" />
<rect x="136.15" y="390.25" width="20.90" height="47.15" fill="#000" stroke="#000" stroke-width="1.3"/>
<text x="146.8" y="454.6" font-size="12" font-weight="bold" text-anchor="middle" fill="#000" >KO</text>
<line x1="173.05" y1="437.4" x2="173.05" y2="441.4" stroke="#000" stroke-width="1.3" />
<line x1="173.05" y1="365.8" x2="173.05" y2="350.4" stroke="#000" stroke-width="1.3" />
<line x1="167.55" y1="350.4" x2="178.55" y2="350.4" stroke="#000" stroke-width="1.3" />
<rect x="162.55" y="366.45" width="21.00" height="70.95" fill="#a8a8a8" stroke="#000" stroke-width="1.3"/>
<text x="173" y="454.6" font-size="12" font-weight="bold" text-anchor="middle" fill="#000" >Tg</text>
<line x1="199.9" y1="437.4" x2="199.9" y2="441.4" stroke="#000" stroke-width="1.3" />
<line x1="199.9" y1="353" x2="199.9" y2="334.2" stroke="#000" stroke-width="1.3" />
<line x1="194.4" y1="334.2" x2="205.4" y2="334.2" stroke="#000" stroke-width="1.3" />
<rect x="189.45" y="353.65" width="20.90" height="83.75" fill="#fff" stroke="#000" stroke-width="1.3"/>
<text x="200.8" y="454.6" font-size="12" font-weight="bold" text-anchor="middle" fill="#000" >Wt</text>
<text x="53.1" y="411" font-size="12" font-weight="bold" text-anchor="middle" fill="#000" >23%</text>
<text x="79.5" y="398.5" font-size="12" font-weight="bold" text-anchor="middle" fill="#000" >33%</text>
<text x="148.2" y="374" font-size="12" font-weight="bold" text-anchor="middle" fill="#000" >57%</text>
<text x="173" y="347.5" font-size="12" font-weight="bold" text-anchor="middle" fill="#000" >85%</text>
<line x1="244.6" y1="316" x2="244.6" y2="438.15" stroke="#000" stroke-width="1.5" />
<line x1="244.6" y1="437.4" x2="337" y2="437.4" stroke="#000" stroke-width="1.5" />
<line x1="240.2" y1="437.4" x2="244.6" y2="437.4" stroke="#000" stroke-width="1.5" />
<text x="239.6" y="441.09999999999997" font-size="9" font-weight="bold" text-anchor="end" fill="#000" >0</text>
<line x1="240.2" y1="397.0" x2="244.6" y2="397.0" stroke="#000" stroke-width="1.5" />
<text x="239.6" y="400.7" font-size="9" font-weight="bold" text-anchor="end" fill="#000" >0.2</text>
<line x1="240.2" y1="356.59999999999997" x2="244.6" y2="356.59999999999997" stroke="#000" stroke-width="1.5" />
<text x="239.6" y="360.29999999999995" font-size="9" font-weight="bold" text-anchor="end" fill="#000" >0.4</text>
<line x1="240.2" y1="316.2" x2="244.6" y2="316.2" stroke="#000" stroke-width="1.5" />
<text x="239.6" y="319.9" font-size="9" font-weight="bold" text-anchor="end" fill="#000" >0.6</text>
<text x="292.3" y="312" font-size="12" font-weight="bold" text-anchor="middle" fill="#000" >Liver</text>
<line x1="253.8" y1="314.9" x2="329.2" y2="314.9" stroke="#000" stroke-width="1.5" />
<line x1="260.0" y1="437.4" x2="260.0" y2="441.4" stroke="#000" stroke-width="1.3" />
<line x1="260.0" y1="429.8" x2="260.0" y2="428" stroke="#000" stroke-width="1.3" />
<line x1="254.5" y1="428" x2="265.5" y2="428" stroke="#000" stroke-width="1.3" />
<rect x="249.85" y="430.45" width="20.30" height="6.95" fill="#000" stroke="#000" stroke-width="1.3"/>
<text x="259.6" y="454.8" font-size="12" font-weight="bold" text-anchor="middle" fill="#000" >KO</text>
<line x1="291.0" y1="437.4" x2="291.0" y2="441.4" stroke="#000" stroke-width="1.3" />
<line x1="291.0" y1="402.5" x2="291.0" y2="395.2" stroke="#000" stroke-width="1.3" />
<line x1="285.0" y1="395.2" x2="297.0" y2="395.2" stroke="#000" stroke-width="1.3" />
<rect x="281.05" y="403.15" width="19.90" height="34.25" fill="#a8a8a8" stroke="#000" stroke-width="1.3"/>
<text x="290" y="454.8" font-size="12" font-weight="bold" text-anchor="middle" fill="#000" >Tg</text>
<line x1="322.6" y1="437.4" x2="322.6" y2="441.4" stroke="#000" stroke-width="1.3" />
<line x1="322.6" y1="351.8" x2="322.6" y2="328" stroke="#000" stroke-width="1.3" />
<line x1="317.1" y1="328" x2="328.1" y2="328" stroke="#000" stroke-width="1.3" />
<rect x="312.65" y="352.45" width="19.90" height="84.95" fill="#fff" stroke="#000" stroke-width="1.3"/>
<text x="321.2" y="454.8" font-size="12" font-weight="bold" text-anchor="middle" fill="#000" >Wt</text>
<text x="263.5" y="414.3" font-size="12" font-weight="bold" text-anchor="middle" fill="#000" >9%</text>
<text x="292" y="387.5" font-size="12" font-weight="bold" text-anchor="middle" fill="#000" >40%</text>
<line x1="259.4" y1="366.2" x2="291.7" y2="366.2" stroke="#000" stroke-width="1.3" />
<text x="277" y="364.2" font-size="15" font-weight="bold" text-anchor="middle" fill="#000" >*</text>
<text x="1.4" y="491" font-size="19.8" font-weight="bold" text-anchor="start" fill="#000" stroke="#000" stroke-width="0.4">C</text>
<text transform="translate(10.4,613.6) rotate(-90)" font-size="11.5" font-weight="normal" textLength="112" lengthAdjust="spacingAndGlyphs"># of cells/ tissue (x10<tspan font-size="6.5" dy="-3.5">5</tspan><tspan dy="3.5">)</tspan></text>
<text x="103.9" y="500.9" font-size="13.3" font-weight="bold" text-anchor="middle" fill="#000" >THYMUS</text>
<line x1="30.5" y1="513.5" x2="30.5" y2="609.7" stroke="#000" stroke-width="1.4" />
<line x1="30.5" y1="609" x2="175" y2="609" stroke="#000" stroke-width="1.4" />
<line x1="27.5" y1="609.0" x2="30.5" y2="609.0" stroke="#000" stroke-width="1.3" />
<text x="27.4" y="612.3" font-size="7.4" font-weight="bold" text-anchor="end" fill="#000" >0</text>
<line x1="27.5" y1="589.9" x2="30.5" y2="589.9" stroke="#000" stroke-width="1.3" />
<text x="25.7" y="593.1999999999999" font-size="7.4" font-weight="bold" text-anchor="end" fill="#000" >1.0</text>
<line x1="27.5" y1="570.8" x2="30.5" y2="570.8" stroke="#000" stroke-width="1.3" />
<text x="25.7" y="574.0999999999999" font-size="7.4" font-weight="bold" text-anchor="end" fill="#000" >2.0</text>
<line x1="27.5" y1="551.7" x2="30.5" y2="551.7" stroke="#000" stroke-width="1.3" />
<text x="25.7" y="555.0" font-size="7.4" font-weight="bold" text-anchor="end" fill="#000" >3.0</text>
<line x1="27.5" y1="532.6" x2="30.5" y2="532.6" stroke="#000" stroke-width="1.3" />
<text x="25.7" y="535.9" font-size="7.4" font-weight="bold" text-anchor="end" fill="#000" >4.0</text>
<line x1="27.5" y1="513.5" x2="30.5" y2="513.5" stroke="#000" stroke-width="1.3" />
<text x="25.7" y="516.8" font-size="7.4" font-weight="bold" text-anchor="end" fill="#000" >5.0</text>
<line x1="39.25" y1="609" x2="39.25" y2="611.2" stroke="#000" stroke-width="1.2" />
<line x1="39.550000000000004" y1="607" x2="39.550000000000004" y2="606.6" stroke="#000" stroke-width="1.3" />
<line x1="37.050000000000004" y1="606.6" x2="42.050000000000004" y2="606.6" stroke="#000" stroke-width="1.3" />
<rect x="33.35" y="607.65" width="12.40" height="1.35" fill="#000" stroke="#000" stroke-width="1.3"/>
<line x1="52.35000000000001" y1="609" x2="52.35000000000001" y2="611.2" stroke="#000" stroke-width="1.2" />
<line x1="52.650000000000006" y1="606.4" x2="52.650000000000006" y2="606" stroke="#000" stroke-width="1.3" />
<line x1="50.150000000000006" y1="606" x2="55.150000000000006" y2="606" stroke="#000" stroke-width="1.3" />
<rect x="46.45" y="607.05" width="12.40" height="1.95" fill="#aaa" stroke="#000" stroke-width="1.3"/>
<line x1="65.45" y1="609" x2="65.45" y2="611.2" stroke="#000" stroke-width="1.2" />
<line x1="65.75" y1="607.5" x2="65.75" y2="607.2" stroke="#000" stroke-width="1.3" />
<line x1="63.25" y1="607.2" x2="68.25" y2="607.2" stroke="#000" stroke-width="1.3" />
<rect x="59.55" y="608.15" width="12.40" height="0.85" fill="#fff" stroke="#000" stroke-width="1.3"/>
<line x1="89.9" y1="609" x2="89.9" y2="611.2" stroke="#000" stroke-width="1.2" />
<line x1="90.2" y1="602" x2="90.2" y2="601.2" stroke="#000" stroke-width="1.3" />
<line x1="87.2" y1="601.2" x2="93.2" y2="601.2" stroke="#000" stroke-width="1.3" />
<rect x="84.05" y="602.65" width="12.30" height="6.35" fill="#000" stroke="#000" stroke-width="1.3"/>
<line x1="102.9" y1="609" x2="102.9" y2="611.2" stroke="#000" stroke-width="1.2" />
<line x1="103.2" y1="601.2" x2="103.2" y2="600.2" stroke="#000" stroke-width="1.3" />
<line x1="100.2" y1="600.2" x2="106.2" y2="600.2" stroke="#000" stroke-width="1.3" />
<rect x="97.05" y="601.85" width="12.30" height="7.15" fill="#aaa" stroke="#000" stroke-width="1.3"/>
<line x1="115.9" y1="609" x2="115.9" y2="611.2" stroke="#000" stroke-width="1.2" />
<line x1="116.2" y1="605.2" x2="116.2" y2="604.8" stroke="#000" stroke-width="1.3" />
<line x1="113.2" y1="604.8" x2="119.2" y2="604.8" stroke="#000" stroke-width="1.3" />
<rect x="110.05" y="605.85" width="12.30" height="3.15" fill="#fff" stroke="#000" stroke-width="1.3"/>
<line x1="139.85000000000002" y1="609" x2="139.85000000000002" y2="611.2" stroke="#000" stroke-width="1.2" />
<line x1="140.15" y1="601.2" x2="140.15" y2="600.6" stroke="#000" stroke-width="1.3" />
<line x1="136.65" y1="600.6" x2="143.65" y2="600.6" stroke="#000" stroke-width="1.3" />
<rect x="133.95" y="601.85" width="12.40" height="7.15" fill="#000" stroke="#000" stroke-width="1.3"/>
<line x1="152.95" y1="609" x2="152.95" y2="611.2" stroke="#000" stroke-width="1.2" />
<line x1="153.25" y1="590.4" x2="153.25" y2="587" stroke="#000" stroke-width="1.3" />
<line x1="149.75" y1="587" x2="156.75" y2="587" stroke="#000" stroke-width="1.3" />
<rect x="147.05" y="591.05" width="12.40" height="17.95" fill="#aaa" stroke="#000" stroke-width="1.3"/>
<line x1="166.05" y1="609" x2="166.05" y2="611.2" stroke="#000" stroke-width="1.2" />
<line x1="166.35" y1="538.4" x2="166.35" y2="533.7" stroke="#000" stroke-width="1.3" />
<line x1="162.85" y1="533.7" x2="169.85" y2="533.7" stroke="#000" stroke-width="1.3" />
<rect x="160.15" y="539.05" width="12.40" height="69.95" fill="#fff" stroke="#000" stroke-width="1.3"/>
<text x="34.1" y="625.2" font-size="11.3" font-weight="bold">CD44<tspan font-size="6.6" dy="-4.6" dx="0.4">Lo</tspan></text>
<text x="33.8" y="638.6" font-size="11.3" font-weight="bold" text-anchor="start" fill="#000" >NK1.1-</text>
<text x="83.7" y="625.2" font-size="11.3" font-weight="bold">CD44<tspan font-size="6.6" dy="-4.6" dx="0.4">Hi</tspan></text>
<text x="83.4" y="638.6" font-size="11.3" font-weight="bold" text-anchor="start" fill="#000" >NK1.1-</text>
<text x="134.9" y="625.2" font-size="11.3" font-weight="bold">CD44<tspan font-size="6.6" dy="-4.6" dx="0.4">Hi</tspan></text>
<text x="133.0" y="638.6" font-size="11.3" font-weight="bold" text-anchor="start" fill="#000" >NK1.1+</text>
<line x1="140.8" y1="523.4" x2="167.8" y2="523.4" stroke="#000" stroke-width="1.4" />
<text x="154.9" y="526.2" font-size="13" font-weight="normal" text-anchor="middle" fill="#666" >*</text>
<line x1="151.9" y1="530.5" x2="167.8" y2="530.5" stroke="#000" stroke-width="1.4" />
<text x="160.3" y="533.7" font-size="13" font-weight="normal" text-anchor="middle" fill="#666" >*</text>
<line x1="138.4" y1="583" x2="154.3" y2="583" stroke="#000" stroke-width="1.4" />
<text x="146.8" y="585.9000000000001" font-size="13" font-weight="normal" text-anchor="middle" fill="#666" >*</text>
<text x="250.7" y="501.3" font-size="13.3" font-weight="bold" text-anchor="middle" fill="#000" >SPLEEN</text>
<line x1="202.1" y1="513.5" x2="202.1" y2="609.7" stroke="#000" stroke-width="1.4" />
<line x1="202.1" y1="609" x2="301.7" y2="609" stroke="#000" stroke-width="1.4" />
<line x1="199.1" y1="609.0" x2="202.1" y2="609.0" stroke="#000" stroke-width="1.3" />
<text x="200.10000000000002" y="612.3" font-size="7.4" font-weight="bold" text-anchor="end" fill="#000" >0</text>
<line x1="199.1" y1="579.25" x2="202.1" y2="579.25" stroke="#000" stroke-width="1.3" />
<text x="197.3" y="582.55" font-size="7.4" font-weight="bold" text-anchor="end" fill="#000" >1.0</text>
<line x1="199.1" y1="549.5" x2="202.1" y2="549.5" stroke="#000" stroke-width="1.3" />
<text x="197.3" y="552.8" font-size="7.4" font-weight="bold" text-anchor="end" fill="#000" >2.0</text>
<line x1="199.1" y1="519.75" x2="202.1" y2="519.75" stroke="#000" stroke-width="1.3" />
<text x="197.3" y="523.05" font-size="7.4" font-weight="bold" text-anchor="end" fill="#000" >3.0</text>
<line x1="216.05" y1="609" x2="216.05" y2="611.2" stroke="#000" stroke-width="1.2" />
<line x1="216.35" y1="579.6" x2="216.35" y2="572.1" stroke="#000" stroke-width="1.3" />
<line x1="212.85" y1="572.1" x2="219.85" y2="572.1" stroke="#000" stroke-width="1.3" />
<rect x="210.25" y="580.25" width="12.20" height="28.75" fill="#000" stroke="#000" stroke-width="1.3"/>
<line x1="228.95" y1="609" x2="228.95" y2="611.2" stroke="#000" stroke-width="1.2" />
<line x1="229.25" y1="576.6" x2="229.25" y2="568.6" stroke="#000" stroke-width="1.3" />
<line x1="225.75" y1="568.6" x2="232.75" y2="568.6" stroke="#000" stroke-width="1.3" />
<rect x="223.15" y="577.25" width="12.20" height="31.75" fill="#aaa" stroke="#000" stroke-width="1.3"/>
<line x1="241.85000000000002" y1="609" x2="241.85000000000002" y2="611.2" stroke="#000" stroke-width="1.2" />
<line x1="242.15" y1="587.9" x2="242.15" y2="577.9" stroke="#000" stroke-width="1.3" />
<line x1="238.65" y1="577.9" x2="245.65" y2="577.9" stroke="#000" stroke-width="1.3" />
<rect x="236.05" y="588.55" width="12.20" height="20.45" fill="#fff" stroke="#000" stroke-width="1.3"/>
<line x1="266.70000000000005" y1="609" x2="266.70000000000005" y2="611.2" stroke="#000" stroke-width="1.2" />
<line x1="267.0" y1="569.1" x2="267.0" y2="561.6" stroke="#000" stroke-width="1.3" />
<line x1="263.5" y1="561.6" x2="270.5" y2="561.6" stroke="#000" stroke-width="1.3" />
<rect x="260.95" y="569.75" width="12.10" height="39.25" fill="#000" stroke="#000" stroke-width="1.3"/>
<line x1="279.5" y1="609" x2="279.5" y2="611.2" stroke="#000" stroke-width="1.2" />
<line x1="279.80000000000007" y1="544.7" x2="279.80000000000007" y2="531" stroke="#000" stroke-width="1.3" />
<line x1="276.30000000000007" y1="531" x2="283.30000000000007" y2="531" stroke="#000" stroke-width="1.3" />
<rect x="273.75" y="545.35" width="12.10" height="63.65" fill="#aaa" stroke="#000" stroke-width="1.3"/>
<line x1="292.30000000000007" y1="609" x2="292.30000000000007" y2="611.2" stroke="#000" stroke-width="1.2" />
<line x1="292.6" y1="551" x2="292.6" y2="523.2" stroke="#000" stroke-width="1.3" />
<line x1="289.1" y1="523.2" x2="296.1" y2="523.2" stroke="#000" stroke-width="1.3" />
<rect x="286.55" y="551.65" width="12.10" height="57.35" fill="#fff" stroke="#000" stroke-width="1.3"/>
<text x="215.1" y="625.2" font-size="11.3" font-weight="bold">CD44<tspan font-size="6.6" dy="-4.6" dx="0.4">Hi</tspan></text>
<text x="214.8" y="638.6" font-size="11.3" font-weight="bold" text-anchor="start" fill="#000" >NK1.1-</text>
<text x="266.4" y="625.2" font-size="11.3" font-weight="bold">CD44<tspan font-size="6.6" dy="-4.6" dx="0.4">Hi</tspan></text>
<text x="264.8" y="638.6" font-size="11.3" font-weight="bold" text-anchor="start" fill="#000" >NK1.1+</text>
<text x="378.3" y="501.3" font-size="13.3" font-weight="bold" text-anchor="middle" fill="#000" >LIVER</text>
<line x1="328.8" y1="513.5" x2="328.8" y2="609.7" stroke="#000" stroke-width="1.4" />
<line x1="328.8" y1="609" x2="428" y2="609" stroke="#000" stroke-width="1.4" />
<line x1="325.8" y1="609.0" x2="328.8" y2="609.0" stroke="#000" stroke-width="1.3" />
<text x="325.6" y="612.3" font-size="7.4" font-weight="bold" text-anchor="end" fill="#000" >0</text>
<line x1="325.8" y1="589.15" x2="328.8" y2="589.15" stroke="#000" stroke-width="1.3" />
<text x="324.6" y="592.4499999999999" font-size="7.4" font-weight="bold" text-anchor="end" fill="#000" >0.1</text>
<line x1="325.8" y1="569.3" x2="328.8" y2="569.3" stroke="#000" stroke-width="1.3" />
<text x="324.6" y="572.5999999999999" font-size="7.4" font-weight="bold" text-anchor="end" fill="#000" >0.2</text>
<line x1="325.8" y1="549.45" x2="328.8" y2="549.45" stroke="#000" stroke-width="1.3" />
<text x="324.6" y="552.75" font-size="7.4" font-weight="bold" text-anchor="end" fill="#000" >0.3</text>
<line x1="325.8" y1="529.6" x2="328.8" y2="529.6" stroke="#000" stroke-width="1.3" />
<text x="324.6" y="532.9" font-size="7.4" font-weight="bold" text-anchor="end" fill="#000" >0.4</text>
<line x1="341.95000000000005" y1="609" x2="341.95000000000005" y2="611.2" stroke="#000" stroke-width="1.2" />
<line x1="342.25" y1="604.7" x2="342.25" y2="604.3" stroke="#000" stroke-width="1.3" />
<line x1="338.75" y1="604.3" x2="345.75" y2="604.3" stroke="#000" stroke-width="1.3" />
<rect x="335.95" y="605.35" width="12.60" height="3.65" fill="#000" stroke="#000" stroke-width="1.3"/>
<line x1="355.25" y1="609" x2="355.25" y2="611.2" stroke="#000" stroke-width="1.2" />
<line x1="355.55000000000007" y1="595.4" x2="355.55000000000007" y2="591.7" stroke="#000" stroke-width="1.3" />
<line x1="352.05000000000007" y1="591.7" x2="359.05000000000007" y2="591.7" stroke="#000" stroke-width="1.3" />
<rect x="349.25" y="596.05" width="12.60" height="12.95" fill="#aaa" stroke="#000" stroke-width="1.3"/>
<line x1="368.55000000000007" y1="609" x2="368.55000000000007" y2="611.2" stroke="#000" stroke-width="1.2" />
<line x1="368.85" y1="587.9" x2="368.85" y2="579.6" stroke="#000" stroke-width="1.3" />
<line x1="365.35" y1="579.6" x2="372.35" y2="579.6" stroke="#000" stroke-width="1.3" />
<rect x="362.55" y="588.55" width="12.60" height="20.45" fill="#fff" stroke="#000" stroke-width="1.3"/>
<line x1="393.05" y1="609" x2="393.05" y2="611.2" stroke="#000" stroke-width="1.2" />
<line x1="393.35" y1="605.5" x2="393.35" y2="605.1" stroke="#000" stroke-width="1.3" />
<line x1="389.85" y1="605.1" x2="396.85" y2="605.1" stroke="#000" stroke-width="1.3" />
<rect x="387.15" y="606.15" width="12.40" height="2.85" fill="#000" stroke="#000" stroke-width="1.3"/>
<line x1="406.15000000000003" y1="609" x2="406.15000000000003" y2="611.2" stroke="#000" stroke-width="1.2" />
<line x1="406.45000000000005" y1="587.9" x2="406.45000000000005" y2="584.9" stroke="#000" stroke-width="1.3" />
<line x1="402.95000000000005" y1="584.9" x2="409.95000000000005" y2="584.9" stroke="#000" stroke-width="1.3" />
<rect x="400.25" y="588.55" width="12.40" height="20.45" fill="#aaa" stroke="#000" stroke-width="1.3"/>
<line x1="419.25" y1="609" x2="419.25" y2="611.2" stroke="#000" stroke-width="1.2" />
<line x1="419.55" y1="538.2" x2="419.55" y2="522.7" stroke="#000" stroke-width="1.3" />
<line x1="416.05" y1="522.7" x2="423.05" y2="522.7" stroke="#000" stroke-width="1.3" />
<rect x="413.35" y="538.85" width="12.40" height="70.15" fill="#fff" stroke="#000" stroke-width="1.3"/>
<text x="337.6" y="625.2" font-size="11.3" font-weight="bold">CD44<tspan font-size="6.6" dy="-4.6" dx="0.4">Hi</tspan></text>
<text x="337.3" y="638.6" font-size="11.3" font-weight="bold" text-anchor="start" fill="#000" >NK1.1-</text>
<text x="388.2" y="625.2" font-size="11.3" font-weight="bold">CD44<tspan font-size="6.6" dy="-4.6" dx="0.4">Hi</tspan></text>
<text x="386.5" y="638.6" font-size="11.3" font-weight="bold" text-anchor="start" fill="#000" >NK1.1+</text>
<line x1="393.3" y1="510.6" x2="420.4" y2="510.6" stroke="#000" stroke-width="1.4" />
<text x="407.9" y="513.2" font-size="13" font-weight="normal" text-anchor="middle" fill="#666" >*</text>
<line x1="404.9" y1="519.6" x2="420.4" y2="519.6" stroke="#000" stroke-width="1.4" />
<text x="412.1" y="522.7" font-size="13" font-weight="normal" text-anchor="middle" fill="#666" >*</text>
<line x1="392.8" y1="581.6" x2="409.1" y2="581.6" stroke="#000" stroke-width="1.4" />
<text x="400.3" y="584.2" font-size="13" font-weight="normal" text-anchor="middle" fill="#666" >*</text>
<line x1="340.6" y1="588.7" x2="358.2" y2="588.7" stroke="#000" stroke-width="1.4" />
<text x="348.9" y="591.7" font-size="13" font-weight="normal" text-anchor="middle" fill="#666" >*</text>
<rect x="447.20" y="503.30" width="13.00" height="7.00" fill="#000" stroke="#000" stroke-width="1.4"/>
<rect x="447.20" y="517.20" width="13.00" height="5.80" fill="#ccc" stroke="#000" stroke-width="1.4"/>
<rect x="447.20" y="530.50" width="13.00" height="5.80" fill="#fff" stroke="#000" stroke-width="1.4"/>
<text x="466.6" y="509.5" font-size="10.8" font-weight="bold">IL-15R</text>
<text transform="translate(499.6,509.5) scale(1.38,1)" font-size="12" font-weight="normal">α</text>
<text x="509.4" y="509.5" font-size="10.8" font-weight="bold">-/-</text>
<text x="466.6" y="523" font-size="11" font-weight="bold" text-anchor="start" fill="#000" >Tg</text>
<text x="466.6" y="536.8" font-size="11" font-weight="bold" text-anchor="start" fill="#000" >Wt</text>
</svg>
</body></html>
